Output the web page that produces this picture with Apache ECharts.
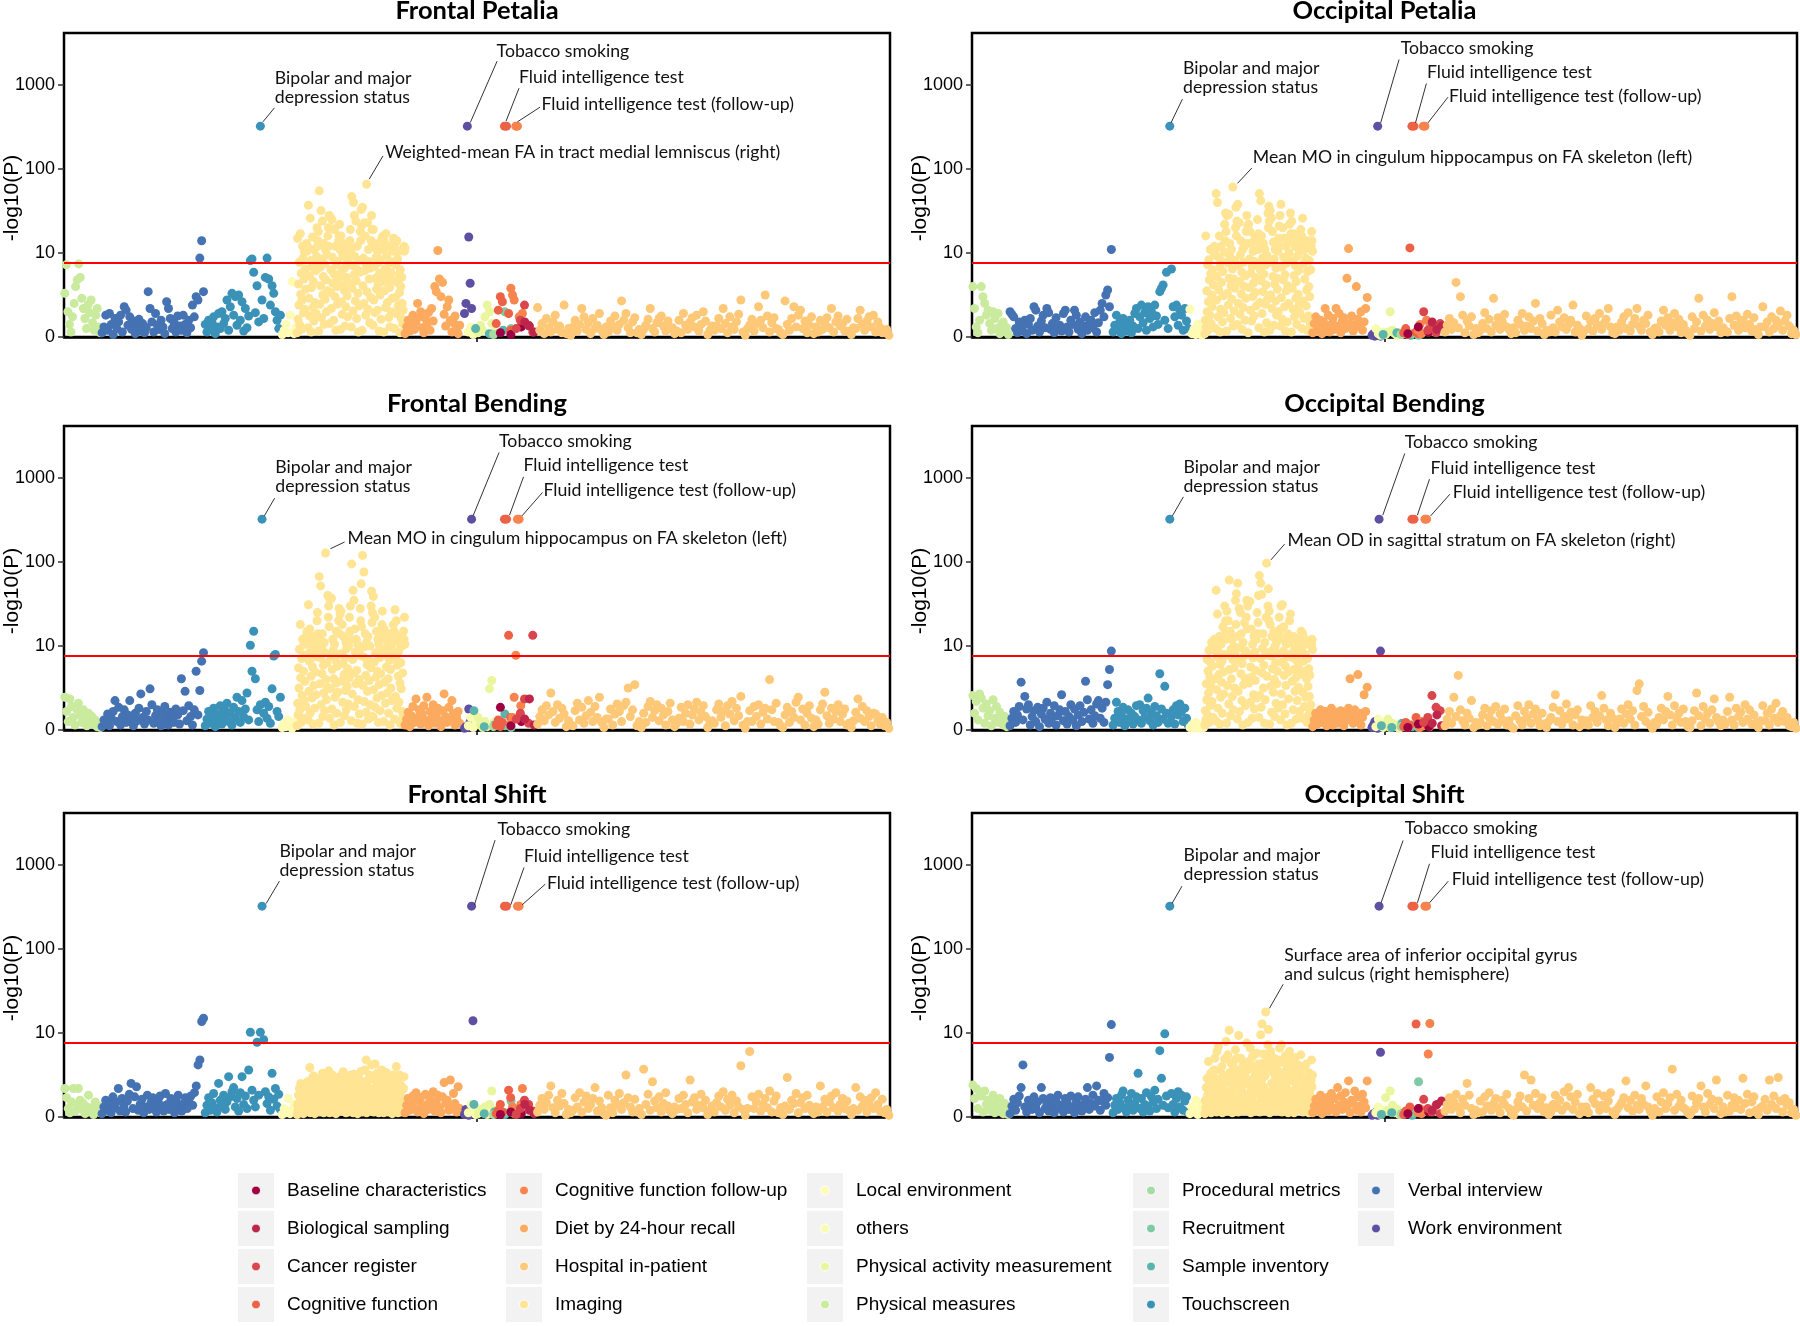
<!DOCTYPE html>
<html><head><meta charset="utf-8">
<script src="https://cdn.jsdelivr.net/npm/echarts@6/dist/echarts.min.js"></script>
<style>html,body{margin:0;padding:0;background:#fff}#c{width:1800px;height:1326px}</style>
</head><body><div id="c"></div>
<script>
// ---------- categories & colours ----------
const categories = ['Baseline characteristics','Biological sampling','Cancer register','Cognitive function',
  'Cognitive function follow-up','Diet by 24-hour recall','Hospital in-patient','Imaging',
  'Local environment','others','Physical activity measurement','Physical measures',
  'Procedural metrics','Recruitment','Sample inventory','Touchscreen','Verbal interview','Work environment'];
const catColors = ['#9E0142','#BE254A','#DA464D','#ED6246','#F7844E','#FCAA5F','#FDC877','#FEE493',
  '#FFFAB4','#F8FCB0','#E9F69D','#CAEA9E','#A7DBA4','#7FCAA5','#5AB4AB','#3B92B9','#4472B2','#5E4FA2'];
// phenotype order along the x axis (phenotype index ranges, 0..1000)
const xOrder = ['Physical measures','Verbal interview','Touchscreen','Local environment','Imaging',
  'Diet by 24-hour recall','Work environment','others','Physical activity measurement','Sample inventory',
  'Procedural metrics','Recruitment','Cognitive function','Cognitive function follow-up',
  'Baseline characteristics','Cancer register','Biological sampling','Hospital in-patient'];
const xRange = {'Physical measures':[0,45],'Verbal interview':[45,170],'Touchscreen':[170,263],
  'Local environment':[263,282],'Imaging':[282,413],'Diet by 24-hour recall':[412,480],
  'Work environment':[484,496],'others':[488,500],'Physical activity measurement':[500,522],
  'Sample inventory':[490,540],'Procedural metrics':[515,525],'Recruitment':[530,545],
  'Cognitive function':[522,542],'Cognitive function follow-up':[540,556],
  'Baseline characteristics':[522,560],'Cancer register':[545,570],'Biological sampling':[555,572],
  'Hospital in-patient':[572,1000]};
const panelTitles = ['Frontal Petalia','Occipital Petalia','Frontal Bending','Occipital Bending','Frontal Shift','Occipital Shift'];
const yTickLabels = ['0','10','100','1000'];
const threshold = 8.8;

// ---------- Frontal Petalia (-log10 P) ----------
const FP_pm = [5.2,8.6,3.0,1.5,0.6,2.4,4.0,6.0,6.8,8.7,7.1,4.6,3.4,2.2,1.0,3.8,2.9,4.4,1.7,0.8,2.6,3.4,1.2,0.5];
const FP_verbal = [0.5,1.2,2.6,0.8,2.8,1.5,0.3,2.2,1.0,1.8,2.6,0.6,3.6,3.2,1.4,2.4,0.9,1.9,0.4,1.3,2.1,0.7,1.6,0.5,1.1,5.4,3.4,1.8,0.6,2.8,1.4,0.9,2.0,1.2,0.4,4.2,3.4,2.2,1.0,1.7,0.6,2.5,1.3,0.8,2.6,1.5,0.5,2.0,1.1,3.8,2.4,4.8,4.4,9.4,14,5.4];
const FP_touch = [1.5,0.6,2.0,0.9,1.8,2.4,0.4,1.2,2.8,1.0,3.0,1.6,2.2,4.4,0.8,3.6,5.2,2.6,4.8,1.4,5.0,2.0,4.2,0.7,3.4,1.1,2.5,9.1,9.3,7.7,2.9,6.1,1.8,324,4.4,2.2,7.1,9.4,6.9,3.8,6.1,5.2,3.0,2.0,1.0,2.6];
const FP_local = [0.3,0.8,1.5,0.5,2.6,6.6,0.4,1.1];
const FP_img = [0.5,15,2.1,6.3,3.8,8.9,1.4,17,5.1,7.6,0.9,4.4,12,9.4,2.9,6.9,10.5,3.3,8.1,5.7,11,13,10.5,12,
 1.1,37,4.6,7.3,2.5,26,9.1,0.6,5.9,8.4,15.5,3.5,6.6,1.9,11,8.8,4.1,7.9,2.8,9.6,20,12,14,18,
 0.7,55,3.9,8.3,6.1,32,2.3,9.3,24,5.0,7.2,13,1.5,8.7,4.5,11,6.8,3.0,9.8,5.5,16,20,12,28,
 1.6,27,5.3,8.0,3.4,25,9.5,6.4,19.5,2.0,7.5,19,4.8,12,0.8,8.6,6.0,3.9,9.0,7.0,14,16,22,11,
 0.9,16,4.2,7.8,2.7,9.7,6.2,13,5.6,8.2,1.3,11,3.6,7.1,9.3,4.9,2.4,8.9,6.5,10.2,12,14,19,10.5,
 1.2,47,5.8,8.5,3.1,40,7.4,28,9.6,4.3,24,6.7,2.2,12,8.0,5.2,0.6,9.1,3.7,7.7,18,14,33,21,
 0.8,35,6.1,9.4,4.0,23,7.9,16,2.6,8.7,66,5.4,23,3.3,11,9.0,6.9,1.7,8.2,4.7,14,28,19,12,
 1.4,19,4.4,8.4,2.9,13,7.0,9.5,5.7,11,3.2,10.5,6.3,8.9,0.7,7.6,5.0,9.2,2.1,6.6,15,12,16,11,
 0.6,14,5.5,8.1,3.5,17,7.3,9.7,4.1,12,6.4,2.3,8.8,5.9,1.2,9.0,7.7,3.0,6.8,4.6,11,13,15,10.5,
 1.0,13,4.7,8.6,2.8,14,6.5,9.3,3.7,10.5,7.4,5.3,0.5,8.0,6.0,2.2,7.1,4.0,1.6,3.2,11,12,10.5,11.5];
const FP_diet = [0.4,1.2,2.0,0.7,1.6,2.6,0.9,1.8,4.0,2.4,3.0,1.1,0.5,2.2,1.5,2.9,0.8,3.4,1.9,6.0,5.4,10.7,6.9,4.8,6.5,2.7,1.3,3.6,4.4,2.0,0.6,1.7,2.5,1.0,0.4,1.4];
const FP_work = [2.8,4.0,324,15.5,6.4,3.4,0.4];
const FP_others = [0.6,1.2,0.3,0.9];
const FP_physact = [0.5,1.4,0.8,2.4,3.8,3.0,1.6,0.6];
const FP_sample = [1.0,0.4,0.8];
const FP_proc = [0.3];
const FP_recruit = [3.0,1.0];
const FP_cogf = [1.6,3.2,4.8,4.2,324,324,2.8,0.8];
const FP_cogfu = [5.8,5.0,4.4,324,324,2.4,1.2,2.8];
const FP_baseline = [0.5,0.3,1.2];
const FP_cancer = [1.0,2.0,3.8,1.4,0.6];
const FP_bio = [1.8,1.3,0.6];
const FP_hosp = [3.5,0.8,1.6,0.4,2.2,1.1,0.6,1.8,2.6,0.9,1.3,0.5,3.8,0.4,1.0,0.2,
 1.2,2.0,0.7,1.5,3.4,2.4,0.9,1.7,0.4,2.2,1.0,1.4,2.8,0.8,0.3,1.2,
 0.6,1.9,1.2,2.5,0.8,1.5,4.3,2.0,2.8,1.1,0.5,1.8,2.3,0.5,0.9,0.3,
 0.9,1.4,2.1,3.4,1.0,0.6,1.7,2.2,2.5,1.3,0.7,1.9,1.1,1.1,0.4,0.7,
 2.0,0.5,2.8,1.4,0.9,1.8,2.3,1.2,2.6,0.7,1.5,3.0,1.9,0.3,0.8,1.3,
 0.8,1.3,2.2,1.0,3.4,1.6,0.5,2.4,1.2,0.9,1.8,2.7,4.4,0.6,0.2,1.0,
 1.4,2.1,0.7,1.6,3.6,2.0,1.1,5.0,2.5,0.6,1.7,2.3,1.0,0.9,0.5,0.3,
 4.3,1.5,0.8,2.2,3.6,1.2,2.6,3.2,1.0,1.9,0.5,1.4,2.4,0.4,1.2,0.6,
 2.0,0.9,1.6,2.3,1.1,3.4,0.6,1.8,2.5,1.3,1.6,0.7,2.1,0.7,0.3,1.1,
 1.0,2.2,3.2,1.5,0.8,1.9,2.4,1.2,2.6,0.6,1.8,1.1,0.5,0.5,0.9,0.2];

// ---------- Occipital Petalia ----------
const OP_pm = [6.0,3.4,1.2,0.5,2.0,6.0,4.8,4.0,2.6,3.2,1.6,0.8,3.0,2.2,1.0,2.8,0.4,1.5,1.8,0.7,1.1,0.3];
const OP_verbal = [3.0,2.7,2.4,1.0,0.5,1.8,1.2,0.7,2.0,0.4,1.5,2.2,0.8,3.6,3.2,1.3,0.6,1.9,2.6,1.1,3.4,2.9,0.9,1.6,0.5,2.3,1.0,1.4,0.7,2.8,3.2,1.2,0.6,2.0,1.5,3.2,2.6,0.9,1.8,0.4,1.3,2.4,0.8,1.6,2.0,1.1,2.9,0.6,1.7,3.2,4.0,2.4,5.0,5.6,3.6,11];
const OP_touch = [0.6,1.4,2.6,0.9,1.8,0.4,2.2,1.1,0.7,1.6,2.0,0.5,1.3,2.8,3.4,1.0,2.4,3.8,1.7,2.9,0.8,3.6,2.2,3.0,1.2,3.8,2.5,1.5,5.4,5.8,6.2,2.0,7.7,1.0,324,8.1,3.6,2.4,3.8,1.4,3.2,2.6,0.8,3.4,1.9,1.0];
const OP_local = [3.3,0.4,0.9,0.3,1.5,0.6,0.2,0.8];
const OP_img = [0.4,2.0,16,1.2,5.5,3.0,8.6,0.8,4.2,9.2,6.8,2.6,11,7.5,1.6,5.0,3.6,8.0,10.5,6.2,10.5,12,9.8,11,
 1.0,51,4.4,7.2,40,2.4,9.5,5.6,16,8.3,0.6,3.3,12,6.5,9.0,1.8,7.8,4.9,2.9,10.2,22,14,30,18,
 0.7,28,5.2,8.8,3.8,29,7.0,13,9.6,2.2,6.1,11,4.5,8.1,61,1.3,6.9,3.1,9.1,5.8,20,35,16,24,
 1.5,38,4.0,8.5,23,6.6,2.7,9.8,14,5.1,7.7,0.9,11,3.5,8.9,6.0,12,2.0,7.3,4.6,18,28,13,21,
 0.5,22,5.9,9.3,18,3.2,7.6,13,1.9,8.4,4.8,10.5,6.4,2.5,9.0,15,5.3,7.1,3.7,8.7,14,25,11,17,
 1.1,51,4.1,8.0,42,6.7,16,2.8,9.4,5.4,13,7.5,0.6,11,3.9,8.6,6.2,1.7,9.7,4.5,30,20,36,24,
 0.8,32,5.0,8.9,26,3.4,18,7.2,13.5,1.4,9.3,6.3,11,4.3,8.2,2.6,7.0,5.7,10.5,3.0,15,21,12,28,
 1.3,38,4.7,8.3,2.1,20,6.8,9.5,15,3.6,7.4,0.7,12,5.5,8.8,1.8,6.1,9.1,4.0,10,22,14,30,17,
 0.6,24,5.8,9.0,3.3,17,7.3,2.4,12,8.5,4.6,6.6,1.5,9.6,14,5.1,7.9,3.8,10.5,2.9,13,19,11,16,
 1.0,26,4.3,8.7,2.2,11,6.9,12,9.4,3.7,5.6,0.8,7.8,14,2.5,6.0,9.1,4.8,1.6,8.0,12,18,14,10.5];
const OP_diet = [0.5,1.6,2.4,0.8,1.2,2.0,0.4,1.8,3.4,1.1,2.6,0.6,1.5,2.2,0.9,3.4,1.3,2.8,0.5,1.9,2.3,1.0,7.0,11.3,1.6,2.5,0.7,1.4,6.0,2.1,1.2,3.0,0.8,1.8,3.4,4.7];
const OP_work = [0.2,0.4,0.1,0.3,324,0.2,0.1];
const OP_others = [1.0,0.4,0.2,0.6];
const OP_physact = [0.3,0.6,3.0,0.8,0.4,0.2,0.5,0.3];
const OP_sample = [0.3,0.5,0.2];
const OP_proc = [0.3];
const OP_recruit = [0.4,0.2];
const OP_cogf = [0.5,1.0,0.3,11.5,324,324,0.6,0.4];
const OP_cogfu = [0.8,1.5,0.4,324,324,2.0,0.6,1.2];
const OP_baseline = [0.4,1.2,0.6];
const OP_cancer = [3.0,0.8,1.2,0.5,1.6];
const OP_bio = [1.8,0.9,1.3];
const OP_hosp = [0.6,1.4,2.2,0.9,1.7,6.5,1.1,4.8,2.6,0.5,1.9,1.3,2.4,0.3,1.0,0.5,
 0.8,1.6,2.9,1.0,2.1,0.6,4.6,1.4,2.3,0.9,1.8,2.7,1.2,0.9,0.4,1.1,
 0.5,2.0,1.5,2.8,0.8,1.3,2.4,1.0,1.9,4.0,0.7,2.2,1.6,0.3,0.8,0.6,
 2.6,1.1,0.6,3.2,1.8,1.2,2.3,0.9,1.5,2.0,3.8,0.6,1.4,1.0,0.2,0.7,
 2.5,1.0,1.9,0.7,2.2,1.4,2.8,0.9,1.6,2.1,3.4,1.2,0.5,0.4,1.2,0.8,
 1.8,2.4,1.0,2.9,0.7,1.5,2.2,3.4,1.3,0.8,2.0,1.6,2.6,0.6,0.3,1.0,
 1.1,0.6,1.9,3.2,1.4,2.3,0.8,1.7,2.8,1.2,2.1,0.5,1.5,0.8,0.4,0.2,
 2.4,1.0,1.8,4.6,0.7,2.6,1.3,2.0,0.9,1.6,2.9,1.2,1.9,0.5,1.1,0.7,
 0.6,2.2,4.8,1.4,2.5,0.8,1.7,2.0,1.1,2.7,1.5,0.7,2.3,0.9,0.3,1.2,
 3.6,1.2,1.8,0.6,2.4,1.0,2.0,1.5,3.1,0.8,1.9,2.6,1.3,0.4,0.8,0.3];

// ---------- Frontal Bending ----------
const FB_pm = [3.9,2.2,1.0,3.7,2.8,1.5,0.6,2.5,3.2,1.8,0.9,2.4,1.3,0.5,2.0,1.1,1.6,0.7,1.2,0.4,0.8,0.3];
const FB_verbal = [0.4,1.2,0.8,1.9,0.5,1.4,2.2,3.5,1.0,2.7,0.6,1.6,2.4,0.9,1.8,3.5,1.3,0.5,2.0,1.1,2.6,4.3,1.5,0.7,2.2,1.2,4.9,3.0,0.8,1.7,2.4,1.0,0.5,1.9,2.8,1.3,0.6,2.1,1.5,0.9,2.5,1.8,0.7,6.1,2.3,4.6,1.1,2.9,1.6,0.6,2.4,7.0,1.8,4.7,8.2,9.2];
const FB_touch = [0.5,1.3,2.2,0.8,1.7,2.6,0.4,1.1,1.9,2.9,0.7,1.5,2.3,3.2,1.0,2.0,0.6,2.7,1.4,3.9,2.2,0.9,3.5,1.6,2.5,4.4,1.2,10.2,7.0,15,6.1,2.4,1.0,3.0,324,2.0,3.3,1.4,2.8,0.8,4.9,8.8,9.0,2.2,1.6,3.9];
const FB_local = [0.3,0.8,0.4,1.2,0.5,0.2,0.9,0.6];
const FB_img = [0.5,3.2,1.8,7.4,5.0,9.6,2.4,18,6.2,0.9,8.5,4.1,12,1.4,7.0,10.5,3.5,5.8,8.9,2.8,13,10.5,15,11,
 1.2,31,4.6,8.2,16,2.0,9.4,6.4,13,3.8,7.5,0.7,11,5.3,8.7,2.6,6.9,10,4.2,9.1,20,25,14,12,
 0.8,67,5.5,8.6,52,3.0,9.8,6.7,14,1.6,7.7,4.4,11,2.3,9.2,128,6.0,3.6,8.0,5.1,40,22,30,17,
 1.4,36,4.9,8.8,37,2.5,7.2,12,9.5,6.1,0.6,10.5,3.9,8.3,5.6,15,2.0,7.6,4.5,9.0,20,28,14,24,
 0.9,26,5.8,9.1,18,3.3,7.9,13,6.6,1.7,8.6,4.7,11,2.4,9.7,5.2,7.3,3.1,10,6.2,22,15,30,12,
 1.1,95,4.3,8.4,46,6.8,35,2.8,16,9.3,5.5,12,7.1,0.8,10.5,3.6,8.9,6.0,1.9,9.6,28,20,55,17,
 0.7,120,5.3,8.7,76,3.4,9.9,14,6.5,2.1,11,7.8,4.6,13,1.3,8.2,5.9,10,3.0,7.4,30,45,19,25,
 1.6,39,4.8,8.1,22,2.7,9.2,6.3,15,3.8,7.0,12,0.9,10.5,5.4,8.6,2.3,6.7,9.5,4.1,18,26,14,12,
 1.0,16,5.7,8.9,3.2,12,7.5,9.8,4.4,14,6.1,2.0,11,8.3,0.6,7.2,5.0,10,3.5,9.0,13,18,11,15,
 1.3,27,4.0,8.5,20,2.6,7.7,13,6.4,9.4,3.3,11,5.6,0.8,8.0,4.9,10,2.2,6.8,1.5,15,12,22,10.5];
const FB_diet = [0.6,1.3,2.1,0.4,1.7,2.8,0.9,3.7,1.5,2.4,0.7,1.9,2.9,1.2,3.9,0.5,2.2,1.4,3.0,0.8,1.8,2.6,1.1,0.4,2.3,4.3,1.6,0.9,2.7,1.3,3.5,2.0,0.6,1.5,2.2,0.8];
const FB_work = [0.2,0.4,0.3,2.5,1.0,324,0.3];
const FB_others = [0.5,1.5,0.3,0.8];
const FB_physact = [1.5,0.6,0.3,1.0,0.4,4.9,5.9,0.9];
const FB_sample = [2.3,0.4,0.6,1.9];
const FB_proc = [0.4];
const FB_recruit = [0.5,0.3];
const FB_cogf = [0.6,1.2,0.4,0.9,324,324,13.4,1.5];
const FB_cogfu = [0.8,1.5,3.9,8.9,324,324,2.9,1.2];
const FB_baseline = [2.7,0.5,1.0];
const FB_cancer = [1.3,2.0,3.7,0.8,13.4];
const FB_bio = [1.3,3.7,0.6];
const FB_hosp = [0.7,1.6,2.4,1.1,2.9,1.8,4.4,2.2,0.9,3.0,1.4,2.6,1.9,0.4,1.1,0.6,
 0.5,2.3,3.2,1.2,2.7,0.8,1.7,3.5,2.1,1.0,2.8,1.5,3.9,0.9,0.3,1.3,
 1.3,2.5,0.6,1.9,3.1,2.2,1.0,2.9,3.3,5.0,1.6,2.4,5.4,0.5,1.0,0.3,
 2.0,0.9,2.8,3.4,1.5,2.3,3.0,1.1,2.6,1.8,0.6,2.2,3.2,1.2,0.4,0.8,
 1.4,2.7,1.0,2.0,3.0,0.7,1.8,2.5,3.3,1.2,2.1,2.9,1.6,0.3,0.9,1.1,
 0.8,2.4,3.1,1.5,2.2,0.5,2.9,1.9,3.4,1.1,2.6,1.7,4.0,0.6,0.2,1.0,
 2.3,1.0,2.8,1.6,3.0,0.7,2.1,2.6,1.3,6.0,2.4,1.0,3.2,0.9,0.5,0.3,
 1.8,2.7,0.9,2.2,1.5,3.3,3.9,1.2,2.5,0.6,2.0,2.9,1.4,0.4,1.2,0.7,
 2.4,3.1,4.5,1.7,0.8,2.6,1.3,2.2,3.0,1.0,1.9,2.5,0.6,0.8,0.3,1.1,
 2.1,3.7,1.4,2.8,1.0,2.3,1.6,0.5,2.0,1.9,1.2,0.7,1.5,0.5,0.9,0.2];

// ---------- Occipital Bending ----------
const OB_pm = [4.1,2.0,3.4,1.2,4.3,3.8,2.6,0.8,3.1,1.7,2.3,0.5,3.6,1.4,2.8,0.9,2.1,1.1,0.6,1.6,0.4,0.9];
const OB_verbal = [0.5,1.4,2.2,0.9,1.8,2.8,5.7,1.2,4.0,2.5,3.0,0.6,1.6,2.3,1.0,2.7,0.4,1.9,2.6,1.3,3.3,0.8,2.0,1.5,2.9,0.6,1.7,2.4,4.2,1.1,2.2,0.7,1.6,3.0,1.2,2.5,0.5,1.8,2.9,1.0,2.1,5.8,3.6,1.3,2.4,0.8,1.7,3.1,3.5,1.4,2.6,0.9,3.3,5.4,7.2,9.4];
const OB_touch = [0.6,1.4,3.3,2.2,0.9,1.8,2.7,0.5,1.3,2.4,1.0,2.0,0.7,1.6,2.9,1.2,3.0,0.8,2.3,1.5,2.6,3.8,1.1,2.0,0.6,2.8,1.7,0.9,6.7,2.5,1.3,5.2,2.0,0.8,324,1.6,2.4,0.7,2.9,1.8,3.1,2.2,1.0,2.6,1.4,0.6];
const OB_local = [0.3,0.6,0.2,0.9,0.4,0.2,0.5,0.3];
const OB_img = [0.6,2.3,1.2,5.5,3.6,8.4,1.8,7.0,4.4,9.5,0.9,6.3,2.9,8.0,5.1,11,3.4,7.6,1.5,6.0,10.5,12,9.5,11,
 1.1,46,4.8,8.7,24,2.6,9.3,6.6,13,0.7,7.8,3.9,10.5,5.7,8.2,2.0,17,6.9,4.3,9.0,30,15,20,12,
 0.8,26,5.3,8.9,20,3.1,61,7.2,15,1.7,9.6,6.1,12,4.0,8.4,2.4,10,7.4,5.0,9.1,35,18,42,13,
 1.3,56,4.6,8.3,28,2.2,9.8,25,6.7,14,3.5,7.9,0.6,11,5.4,8.8,19,6.2,2.9,9.4,22,35,16,30,
 0.9,34,5.6,9.0,34,3.3,7.5,16,6.3,1.4,10.5,8.6,4.2,13,2.5,9.3,5.9,7.1,12,3.8,25,14,19,40,
 1.5,69,4.1,8.5,56,2.7,41,6.8,9.7,14,5.0,7.7,0.8,11,3.6,8.9,22,97,6.4,9.2,30,48,20,26,
 0.7,18,5.2,8.8,2.1,13,7.3,9.5,4.5,15,6.0,1.6,10,8.0,3.2,11,5.5,7.0,9.1,2.6,14,22,12,16,
 1.2,30,4.3,8.1,31,3.0,9.4,17,6.5,12,1.9,7.6,5.3,10.5,0.6,8.7,14,6.9,3.7,9.0,20,13,24,11,
 0.8,11.4,5.8,8.6,2.4,13,7.2,9.6,4.6,10,6.2,1.3,8.3,3.5,12,7.5,5.1,9.2,2.2,6.6,12,10.5,15,9.8,
 1.4,14,4.5,8.2,12.5,2.8,7.0,9.0,3.9,10.5,6.1,0.9,8.5,5.2,1.8,7.3,4.0,6.5,2.3,3.0,11,10.5,12,9.6];
const OB_diet = [0.4,1.2,2.0,0.7,1.6,2.4,0.9,1.3,2.2,0.5,1.8,1.0,2.6,0.6,1.5,2.1,0.8,1.4,2.3,1.1,0.5,1.9,1.2,2.6,6.1,1.7,0.8,2.4,1.3,6.6,2.0,0.6,1.5,4.2,2.2,5.1];
const OB_work = [0.3,0.6,1.0,0.4,0.2,324,9.4];
const OB_others = [0.4,1.3,0.8,0.3];
const OB_physact = [0.5,1.3,0.3,0.8,0.4,0.6,0.2,0.5];
const OB_sample = [0.5,0.3,0.8,0.4];
const OB_proc = [0.4];
const OB_recruit = [0.6,0.3];
const OB_cogf = [0.4,0.9,0.3,0.6,324,324,1.5,0.7];
const OB_cogfu = [0.6,0.3,1.0,0.5,324,324,0.8,0.4];
const OB_baseline = [0.3,0.7,0.4];
const OB_cancer = [0.9,1.5,4.1,2.7,2.3];
const OB_bio = [0.8,1.8,0.5];
const OB_hosp = [0.5,1.3,2.2,0.8,3.9,1.6,6.5,2.4,1.1,0.6,2.0,1.4,3.5,0.3,0.9,0.6,
 0.9,1.8,2.6,0.5,1.5,2.3,1.0,2.8,0.7,1.9,1.2,2.5,0.6,1.1,0.4,0.2,
 1.7,2.9,1.1,0.6,2.2,1.4,3.0,0.8,1.9,2.5,1.2,0.5,2.0,0.7,0.3,1.0,
 1.5,2.7,4.2,1.0,2.3,0.7,1.6,3.1,1.3,2.1,0.6,1.8,2.4,0.4,1.2,0.8,
 1.1,0.6,2.9,1.5,2.2,0.9,1.7,4.1,2.6,1.2,0.5,2.0,1.4,0.3,0.8,1.3,
 2.5,0.8,1.9,3.0,1.3,2.3,0.6,4.7,5.5,1.6,2.8,1.0,2.1,0.6,0.2,0.9,
 0.7,1.5,2.6,1.2,2.2,4.0,1.8,0.6,2.9,1.4,2.0,0.9,2.5,1.0,0.4,0.3,
 1.1,2.3,4.4,1.7,0.5,2.8,1.3,2.0,0.8,2.4,3.7,1.5,1.0,0.5,1.2,0.7,
 2.2,3.9,1.2,0.6,2.6,1.6,2.1,0.9,3.0,1.3,2.4,0.7,1.8,0.8,0.3,1.1,
 2.9,1.1,2.0,0.6,2.5,1.4,3.2,0.9,1.7,2.2,1.0,1.5,0.5,0.4,0.9,0.2];

// ---------- Frontal Shift ----------
const FS_pm = [3.4,2.3,1.0,0.5,1.8,3.4,0.7,1.4,3.4,2.0,0.9,1.6,0.4,1.2,2.6,0.6,1.1,0.3,1.8,0.8,1.3,0.5];
const FS_verbal = [0.4,1.2,2.0,0.8,1.6,0.5,2.4,1.1,1.8,3.4,0.7,2.2,1.3,0.6,1.9,2.7,4.0,1.0,2.4,3.6,0.8,1.5,2.1,0.5,1.2,2.6,0.9,1.7,2.3,1.0,0.6,1.8,2.5,1.3,0.7,2.8,1.5,0.9,2.2,1.2,0.5,1.9,2.6,1.1,0.7,1.6,2.3,1.0,1.8,2.5,1.4,2.9,3.7,6.2,6.8,13.7,15];
const FS_touch = [0.5,1.4,2.3,0.8,1.7,2.8,1.1,0.6,4.0,2.0,1.3,2.6,0.9,1.8,4.8,2.4,3.0,3.5,1.2,2.2,0.7,2.9,4.8,1.5,2.5,1.0,5.6,10.2,3.2,2.0,1.2,8.9,2.6,10.2,324,9.2,3.0,1.6,2.4,0.8,5.2,2.1,3.4,1.3,2.7,0.9];
const FS_local = [0.3,1.0,0.5,2.2,0.4,0.8,1.5,0.6];
const FS_img = [0.3,1.5,0.8,2.6,1.2,3.4,0.5,2.0,4.0,1.0,2.9,0.6,1.8,3.1,0.4,2.3,1.4,3.7,0.9,2.5,2.0,3.0,1.2,4.2,
 0.7,2.2,1.3,3.8,5.9,0.5,2.7,4.4,1.6,3.2,0.9,2.0,4.9,1.1,3.5,0.4,2.5,4.1,1.8,3.0,3.5,2.2,4.5,1.5,
 1.0,2.8,0.6,3.6,1.9,4.6,0.8,2.4,5.2,1.4,3.3,0.5,2.1,4.3,1.2,3.9,0.7,2.6,4.8,1.7,4.0,2.8,5.5,1.9,
 0.5,3.0,1.5,4.2,0.9,2.3,5.0,1.1,3.6,0.6,2.7,4.5,1.3,3.3,0.4,2.0,4.0,1.8,3.1,0.8,3.7,2.5,4.8,1.6,
 1.2,2.5,0.7,3.8,1.6,4.7,5.4,0.9,2.9,4.1,1.4,3.4,0.5,2.2,4.4,1.0,3.7,0.6,2.6,4.5,4.6,3.1,2.0,5.0,
 0.8,3.1,1.7,4.3,0.5,2.4,5.1,1.2,3.5,0.7,2.8,4.6,1.5,3.9,0.4,2.1,4.8,1.0,3.2,1.9,3.8,5.4,2.6,4.2,
 0.6,2.7,1.3,4.0,0.9,3.4,5.6,1.6,2.5,6.8,0.5,3.8,1.1,4.4,2.2,0.8,3.1,5.0,1.4,2.9,4.8,6.2,3.3,2.1,
 1.0,3.3,0.6,4.5,1.8,6.3,2.6,0.9,3.9,5.2,1.3,2.4,4.2,0.5,3.0,1.6,4.8,2.1,0.7,3.6,5.6,3.9,2.8,4.5,
 0.5,2.8,1.4,4.1,0.8,3.5,5.3,1.1,2.6,4.6,0.6,3.2,1.9,4.0,0.9,2.3,3.7,1.2,2.9,0.4,4.4,3.0,5.0,2.0,
 1.1,2.4,0.7,3.6,6.0,1.5,2.9,4.3,0.5,3.1,1.8,5.0,0.9,2.6,3.8,1.2,2.0,0.6,3.3,1.4,3.4,4.8,2.2,1.0];
const FS_diet = [0.5,1.4,2.2,0.8,1.7,2.5,1.0,2.9,0.6,1.9,2.3,1.2,0.4,2.7,1.5,0.9,2.1,1.3,3.0,0.7,1.8,2.6,1.1,0.5,2.4,4.1,1.6,2.0,0.8,4.4,1.2,2.8,1.6,0.6,3.6,1.0];
const FS_work = [0.3,0.9,0.5,0.2,0.6,324,14];
const FS_others = [0.5,1.5,0.8,0.3];
const FS_physact = [0.4,0.9,0.5,1.2,0.3,1.5,3.1,0.8];
const FS_sample = [1.5,0.4,0.6,0.3];
const FS_proc = [0.3];
const FS_recruit = [0.5,1.9];
const FS_cogf = [0.4,0.8,1.5,0.6,324,324,3.2,2.3];
const FS_cogfu = [0.6,1.2,0.4,0.9,324,324,1.5,3.4];
const FS_baseline = [0.3,0.6,0.4];
const FS_cancer = [0.3,1.0,2.0,1.5,0.7];
const FS_bio = [1.5,0.8,0.4];
const FS_hosp = [0.6,1.4,2.2,0.9,1.7,2.6,3.7,1.1,0.5,2.0,1.3,2.8,1.6,0.3,0.9,0.5,
 0.8,2.3,1.2,2.9,0.6,1.8,2.5,1.0,1.5,2.2,3.5,0.7,1.9,1.1,0.4,0.2,
 2.6,1.1,0.5,2.0,1.4,2.8,0.9,1.7,5.0,2.3,1.2,0.6,2.1,0.6,1.0,0.3,
 5.7,1.5,2.7,0.8,4.2,1.9,1.1,2.4,0.6,1.6,2.9,1.3,0.7,0.4,1.2,0.9,
 2.2,1.0,2.6,1.5,0.5,4.4,1.8,2.3,0.9,1.4,2.7,1.1,2.0,0.3,0.7,1.3,
 0.6,1.7,2.5,1.2,3.0,0.8,2.1,1.4,2.6,0.5,1.9,1.2,6.1,0.9,0.2,1.0,
 7.8,2.4,1.0,1.8,2.7,0.7,1.5,2.2,1.1,3.1,0.6,1.9,2.5,0.5,1.1,0.3,
 1.3,4.7,0.9,2.0,1.6,2.8,0.5,1.7,2.3,1.0,2.6,1.4,0.8,0.4,1.2,0.6,
 3.7,1.2,2.1,0.6,1.8,2.5,1.1,2.9,0.7,1.5,2.2,1.0,1.9,0.8,0.3,1.0,
 3.5,0.8,2.4,1.3,2.0,0.6,1.6,2.3,1.0,2.9,1.5,0.7,2.1,0.5,0.9,0.2];

// ---------- Occipital Shift ----------
const OS_pm = [3.8,2.2,3.4,1.0,3.0,2.5,0.6,3.1,1.5,2.0,0.8,1.3,2.6,0.5,1.8,0.9,2.2,1.2,0.4,1.6,0.7,0.3];
const OS_verbal = [0.4,1.3,2.1,0.8,1.7,2.5,3.5,6.2,1.2,0.6,2.0,1.5,0.9,2.4,1.1,1.8,0.5,3.5,2.2,1.0,1.6,0.7,2.3,1.3,0.5,1.9,2.6,1.0,1.4,0.6,2.2,1.7,0.9,2.5,1.2,0.5,1.8,2.4,1.1,0.7,1.5,2.1,3.5,0.9,1.6,2.6,1.3,3.7,2.0,0.8,1.9,2.8,1.4,2.3,7.1,12.6];
const OS_touch = [0.5,1.4,2.2,0.9,1.7,2.6,3.1,1.1,0.6,2.0,1.3,2.8,0.8,1.6,2.4,5.2,1.0,2.2,0.6,1.5,2.9,1.2,0.7,2.4,1.8,3.2,1.0,2.1,7.9,4.6,1.4,9.9,2.5,1.1,324,2.8,1.5,0.6,2.2,3.0,1.2,2.6,0.8,1.9,2.4,0.5];
const OS_local = [0.4,1.2,0.6,2.0,0.3,0.9,1.5,0.5];
const OS_img = [0.4,2.0,1.1,3.5,0.7,4.6,2.6,1.5,6.6,3.0,0.9,4.0,1.8,5.2,0.5,2.9,3.8,1.3,4.9,2.3,5.6,3.3,7.0,4.4,
 1.0,3.2,0.6,7.8,2.1,4.5,8.4,1.4,3.6,5.6,0.8,2.7,4.2,1.9,6.0,0.5,3.3,5.0,2.4,1.2,6.9,4.8,3.0,9.0,
 0.7,2.8,1.6,7.4,4.1,0.9,10.8,3.0,5.3,2.2,6.4,1.2,3.8,0.5,4.7,2.5,5.9,1.8,3.4,6.8,8.0,5.6,4.4,7.0,
 1.3,3.6,0.6,9.7,2.4,5.0,1.9,4.3,7.0,0.9,3.1,5.6,2.0,6.2,1.4,3.9,0.7,4.8,2.7,5.4,6.5,8.8,4.0,5.8,
 0.8,2.5,6.6,1.6,4.2,8.2,0.5,3.4,5.7,2.1,7.2,1.1,4.6,3.0,6.0,0.7,2.8,5.1,1.5,3.8,7.6,4.9,6.3,3.4,
 1.2,3.3,0.6,5.5,9.8,2.2,4.4,12.8,1.0,6.4,3.6,7.5,2.7,0.8,4.9,17.8,1.8,5.8,3.0,6.9,8.6,11,6.0,7.2,
 0.5,2.6,7.8,1.5,4.0,6.2,0.9,3.2,5.3,2.0,7.0,1.2,4.5,3.6,0.7,5.9,2.4,4.8,1.7,3.9,6.8,5.2,8.2,4.2,
 1.0,3.0,8.6,0.6,4.7,2.3,6.5,1.5,5.4,3.5,0.8,7.3,2.7,4.1,1.3,6.0,3.3,0.5,5.0,2.1,7.8,5.6,6.9,4.4,
 0.7,2.4,6.6,1.4,4.3,3.1,0.5,5.6,2.0,7.1,1.1,3.8,4.9,0.9,2.8,6.2,1.7,3.5,5.1,2.3,5.9,7.4,4.6,3.2,
 1.2,2.9,0.6,5.8,3.7,1.6,4.5,2.2,0.8,6.3,3.2,1.0,4.1,2.6,5.3,0.5,3.0,1.8,2.5,1.4,4.4,6.8,3.6,5.0];
const OS_diet = [0.5,1.3,2.1,0.8,1.6,2.6,0.4,1.9,1.1,2.3,0.7,1.5,2.8,1.0,2.2,0.6,3.5,1.4,2.5,0.9,1.8,2.9,1.2,4.3,0.5,2.0,1.6,3.1,0.8,2.4,1.3,0.6,2.7,1.8,1.1,4.3];
const OS_work = [0.2,0.4,0.3,0.6,0.2,324,7.7];
const OS_others = [0.5,1.2,0.3,0.8];
const OS_physact = [2.3,0.8,3.1,1.4,0.5,0.9,0.3,0.6];
const OS_sample = [0.3,0.5,0.4,0.2];
const OS_proc = [0.3];
const OS_recruit = [0.5,4.2];
const OS_cogf = [0.3,0.7,0.5,1.2,324,324,12.8,0.6];
const OS_cogfu = [0.5,1.0,0.4,0.8,324,324,7.5,13];
const OS_baseline = [0.4,1.0,0.6];
const OS_cancer = [2.1,1.0,0.6,1.4,0.4];
const OS_bio = [0.8,1.5,1.9];
const OS_hosp = [0.7,1.5,2.3,0.9,1.8,2.7,1.2,0.5,2.1,1.4,4.0,2.6,1.0,0.3,0.8,0.5,
 1.9,0.6,2.4,1.3,2.9,0.8,1.6,2.2,1.1,0.5,2.0,1.5,2.7,1.0,0.4,0.2,
 0.9,1.8,2.5,1.2,5.0,0.7,2.2,4.4,1.4,2.8,1.0,1.7,2.3,0.6,1.1,0.3,
 0.6,1.5,2.6,1.1,2.0,0.8,3.0,1.3,3.5,2.4,0.9,1.8,2.7,0.4,1.2,0.7,
 1.2,0.5,3.5,2.1,1.6,2.8,0.8,1.4,2.5,1.0,1.9,2.9,0.6,0.3,0.9,1.3,
 1.7,2.3,4.3,1.1,2.0,0.7,2.6,1.4,0.9,2.2,1.5,3.7,1.2,0.7,0.2,1.0,
 2.4,0.6,1.8,2.9,1.0,1.6,2.3,5.7,0.8,2.7,1.3,2.0,1.1,0.9,0.5,0.3,
 2.5,0.9,1.7,2.2,3.7,1.2,0.6,2.8,1.5,2.1,1.0,4.4,1.9,0.4,1.2,0.6,
 2.6,0.7,1.4,2.3,1.1,2.0,0.9,4.6,1.6,2.7,0.5,1.8,2.4,0.8,0.3,1.1,
 1.3,2.1,0.8,4.4,1.5,2.5,1.0,4.7,1.9,0.6,2.2,1.4,1.7,0.5,0.9,0.2];

// ---------- assemble ----------
function panelData(pm, verbal, touch, local, img, diet, work, others, physact, sample, proc, recruit, cogf, cogfu, baseline, cancer, bio, hosp) {
  return {'Physical measures':pm,'Verbal interview':verbal,'Touchscreen':touch,'Local environment':local,
    'Imaging':img,'Diet by 24-hour recall':diet,'Work environment':work,'others':others,
    'Physical activity measurement':physact,'Sample inventory':sample,'Procedural metrics':proc,
    'Recruitment':recruit,'Cognitive function':cogf,'Cognitive function follow-up':cogfu,
    'Baseline characteristics':baseline,'Cancer register':cancer,'Biological sampling':bio,'Hospital in-patient':hosp};
}
const panelsData = [
  panelData(FP_pm,FP_verbal,FP_touch,FP_local,FP_img,FP_diet,FP_work,FP_others,FP_physact,FP_sample,FP_proc,FP_recruit,FP_cogf,FP_cogfu,FP_baseline,FP_cancer,FP_bio,FP_hosp),
  panelData(OP_pm,OP_verbal,OP_touch,OP_local,OP_img,OP_diet,OP_work,OP_others,OP_physact,OP_sample,OP_proc,OP_recruit,OP_cogf,OP_cogfu,OP_baseline,OP_cancer,OP_bio,OP_hosp),
  panelData(FB_pm,FB_verbal,FB_touch,FB_local,FB_img,FB_diet,FB_work,FB_others,FB_physact,FB_sample,FB_proc,FB_recruit,FB_cogf,FB_cogfu,FB_baseline,FB_cancer,FB_bio,FB_hosp),
  panelData(OB_pm,OB_verbal,OB_touch,OB_local,OB_img,OB_diet,OB_work,OB_others,OB_physact,OB_sample,OB_proc,OB_recruit,OB_cogf,OB_cogfu,OB_baseline,OB_cancer,OB_bio,OB_hosp),
  panelData(FS_pm,FS_verbal,FS_touch,FS_local,FS_img,FS_diet,FS_work,FS_others,FS_physact,FS_sample,FS_proc,FS_recruit,FS_cogf,FS_cogfu,FS_baseline,FS_cancer,FS_bio,FS_hosp),
  panelData(OS_pm,OS_verbal,OS_touch,OS_local,OS_img,OS_diet,OS_work,OS_others,OS_physact,OS_sample,OS_proc,OS_recruit,OS_cogf,OS_cogfu,OS_baseline,OS_cancer,OS_bio,OS_hosp)
];

// ---------- annotations (text + leader offsets relative to the labelled point, px) ----------
const T_BIP = 'Bipolar and major\ndepression status', T_TOB = 'Tobacco smoking', T_FL = 'Fluid intelligence test', T_FU = 'Fluid intelligence test (follow-up)';
const annotations = [
  [ {cat:'Touchscreen',text:T_BIP,t:[14.5,-38.5],l:[2.5,-4.3,14.1,-18.3]},
    {cat:'Work environment',text:T_TOB,t:[29.3,-75],l:[3,-3.7,29.8,-65]},
    {cat:'Cognitive function',last:true,text:T_FL,t:[12.5,-49],l:[-0.5,-5,12.5,-38]},
    {cat:'Cognitive function follow-up',text:T_FU,t:[25.7,-22],l:[1.6,-4.3,24.2,-19]},
    {cat:'Imaging',text:'Weighted-mean FA in tract medial lemniscus (right)',t:[18.6,-32],l:[2.6,-5,16.4,-28.3]} ],
  [ {cat:'Touchscreen',text:T_BIP,t:[13.2,-48],l:[1.2,-3.3,12.6,-27]},
    {cat:'Work environment',text:T_TOB,t:[23,-78],l:[3,-3.3,21.4,-66.7]},
    {cat:'Cognitive function',last:true,text:T_FL,t:[13,-54],l:[1.5,-3.3,12.4,-42.7]},
    {cat:'Cognitive function follow-up',text:T_FU,t:[25.7,-30],l:[4.7,-3.3,24.7,-29]},
    {cat:'Imaging',text:'Mean MO in cingulum hippocampus on FA skeleton (left)',t:[20,-30],l:[4.7,-3.7,19,-19]} ],
  [ {cat:'Touchscreen',text:T_BIP,t:[13.3,-42],l:[2.3,-3.3,12.6,-21]},
    {cat:'Work environment',text:T_TOB,t:[27.5,-78.3],l:[1.5,-3.3,27.5,-66.7]},
    {cat:'Cognitive function',last:true,text:T_FL,t:[17,-54],l:[3,-4,17,-42.3]},
    {cat:'Cognitive function follow-up',text:T_FU,t:[26,-29.3],l:[4.5,-3.3,25,-26.7]},
    {cat:'Imaging',text:'Mean MO in cingulum hippocampus on FA skeleton (left)',t:[22,-14.3],l:[4.8,-4.3,19,-11]} ],
  [ {cat:'Touchscreen',text:T_BIP,t:[13.6,-42.5],l:[2.6,-3.3,13.6,-22.3]},
    {cat:'Work environment',text:T_TOB,t:[25.7,-76.7],l:[3.7,-4,25.7,-65.7]},
    {cat:'Cognitive function',last:true,text:T_FL,t:[16.6,-51],l:[3.4,-4,15.5,-40]},
    {cat:'Cognitive function follow-up',text:T_FU,t:[27.8,-26.7],l:[5.7,-3.3,25,-25]},
    {cat:'Imaging',text:'Mean OD in sagittal stratum on FA skeleton (right)',t:[21,-23],l:[4.4,-3.3,18,-19]} ],
  [ {cat:'Touchscreen',text:T_BIP,t:[17.4,-45.5],l:[4.1,-2.6,17.4,-25]},
    {cat:'Work environment',text:T_TOB,t:[25.9,-77],l:[2.8,-1.3,23.5,-66]},
    {cat:'Cognitive function',last:true,text:T_FL,t:[17.5,-50.3],l:[4.2,-1.3,17.5,-38.7]},
    {cat:'Cognitive function follow-up',text:T_FU,t:[29.5,-22.7],l:[4.7,-1.3,27.8,-22]} ],
  [ {cat:'Touchscreen',text:T_BIP,t:[13.8,-41.5],l:[2.2,-2.7,12.2,-20]},
    {cat:'Work environment',text:T_TOB,t:[25.7,-77.7],l:[2,-3.4,24,-65.7]},
    {cat:'Cognitive function',last:true,text:T_FL,t:[16.6,-54],l:[3.4,-3.4,15.5,-42.4]},
    {cat:'Cognitive function follow-up',text:T_FU,t:[26.7,-26.7],l:[4.6,-3.4,23.4,-25]},
    {cat:'Imaging',text:'Surface area of inferior occipital gyrus\nand sulcus (right hemisphere)',t:[18.6,-47.7],l:[3.8,-3.7,17.5,-27.7]} ]
];

// ---------- layout ----------
const colLeft = [64, 972], colWidth = [826, 825];
const rowTop = [33, 426, 813], gridH = 304;
const titleY = [11, 404, 795];
const yMax = 3.62;
const yT = v => v <= 10 ? v / 10 : Math.log10(v);
const AXIS_FONT = '"Liberation Sans", Arial, sans-serif';
const ANN_FONT = 'Lato, Carlito, sans-serif';

const grids = [], xAxes = [], yAxes = [], series = [];
for (let g = 0; g < 6; g++) {
  const col = g % 2, row = Math.floor(g / 2);
  grids.push({left: colLeft[col], top: rowTop[row], width: colWidth[col], height: gridH,
    show: true, borderColor: '#000', borderWidth: 2.5, backgroundColor: 'transparent'});
  xAxes.push({type: 'value', gridIndex: g, min: 0, max: 1000,
    axisLine: {show: true, onZero: false, lineStyle: {color: '#000', width: 2.5}},
    axisTick: {show: true, customValues: [500], length: 5, lineStyle: {color: '#000', width: 1.5}},
    axisLabel: {show: false}, splitLine: {show: false}});
  yAxes.push({type: 'value', gridIndex: g, min: 0, max: yMax,
    axisLine: {show: true, lineStyle: {color: '#000', width: 2}},
    axisTick: {show: true, customValues: [0, 1, 2, 3], length: 6, lineStyle: {color: '#333', width: 1.5}},
    axisLabel: {show: true, customValues: [0, 1, 2, 3], margin: 9, color: '#000', fontSize: 18, fontFamily: AXIS_FONT,
      formatter: v => yTickLabels[Math.round(v)]},
    splitLine: {show: false}});
  const pd = panelsData[g];
  xOrder.forEach((cat, k) => {
    const vals = pd[cat];
    const [a, b] = xRange[cat];
    const step = (b - a) / vals.length;
    const s = {type: 'scatter', name: cat, xAxisIndex: g, yAxisIndex: g, symbol: 'circle', symbolSize: 9,
      silent: true, animation: false, clip: true,
      itemStyle: {color: catColors[categories.indexOf(cat)], opacity: 1},
      data: vals.map((v, i) => [a + (i + 0.5) * step, yT(v)])};
    if (k === xOrder.length - 1) {
      s.markLine = {silent: true, symbol: ['none', 'none'], label: {show: false}, animation: false,
        lineStyle: {color: '#FF0000', width: 2, type: 'solid'}, data: [{yAxis: yT(threshold)}]};
    }
    series.push(s);
  });
}

const chart = echarts.init(document.getElementById('c'), null, {renderer: 'canvas'});
chart.setOption({animation: false, backgroundColor: '#fff', grid: grids, xAxis: xAxes, yAxis: yAxes, series: series});

// ---------- graphics: titles, axis names, legend, annotations ----------
const graphics = [];
for (let g = 0; g < 6; g++) {
  const col = g % 2, row = Math.floor(g / 2);
  graphics.push({type: 'text', x: colLeft[col] + colWidth[col] / 2, y: titleY[row], silent: true,
    style: {text: panelTitles[g], font: 'bold 25.5px ' + ANN_FONT, fill: '#000', align: 'center', verticalAlign: 'middle'}});
  graphics.push({type: 'text', x: colLeft[col] - 52, y: rowTop[row] + 165, rotation: Math.PI / 2, silent: true,
    style: {text: '-log10(P)', font: '21px ' + AXIS_FONT, fill: '#000', align: 'center', verticalAlign: 'middle'}});
  const pd = panelsData[g];
  annotations[g].forEach(a => {
    const vals = pd[a.cat];
    let m = -Infinity, mi = 0;
    vals.forEach((v, i) => { if (a.last ? v >= m : v > m) { m = v; mi = i; } });
    const [lo, hi] = xRange[a.cat];
    const p = chart.convertToPixel({gridIndex: g}, [lo + (mi + 0.5) * (hi - lo) / vals.length, yT(m)]);
    graphics.push({type: 'line', silent: true, z: 50,
      shape: {x1: p[0] + a.l[0], y1: p[1] + a.l[1], x2: p[0] + a.l[2], y2: p[1] + a.l[3]},
      style: {stroke: '#333', lineWidth: 1}});
    graphics.push({type: 'text', silent: true, z: 50, x: p[0] + a.t[0], y: p[1] + a.t[1],
      style: {text: a.text, font: '17.7px ' + ANN_FONT, fill: '#111', align: 'left', verticalAlign: 'middle', lineHeight: 19}});
  });
}
// legend (4 rows per column)
const legBoxX = [238, 506, 807, 1133, 1358], legTextX = [287, 555, 856, 1182, 1408];
const legTop = 1173, legPitch = 38;
categories.forEach((cat, i) => {
  const c = Math.floor(i / 4), r = i % 4;
  const y0 = legTop + r * legPitch;
  graphics.push({type: 'rect', silent: true, shape: {x: legBoxX[c], y: y0, width: 36, height: 35}, style: {fill: '#F2F2F2'}});
  graphics.push({type: 'circle', silent: true, shape: {cx: legBoxX[c] + 18, cy: y0 + 17.5, r: 4.5}, style: {fill: catColors[i], stroke: '#fff', lineWidth: 1}});
  graphics.push({type: 'text', silent: true, x: legTextX[c], y: y0 + 17.5,
    style: {text: cat, font: '19px ' + AXIS_FONT, fill: '#000', align: 'left', verticalAlign: 'middle'}});
});
chart.setOption({graphic: graphics});
</script>
</body></html>
